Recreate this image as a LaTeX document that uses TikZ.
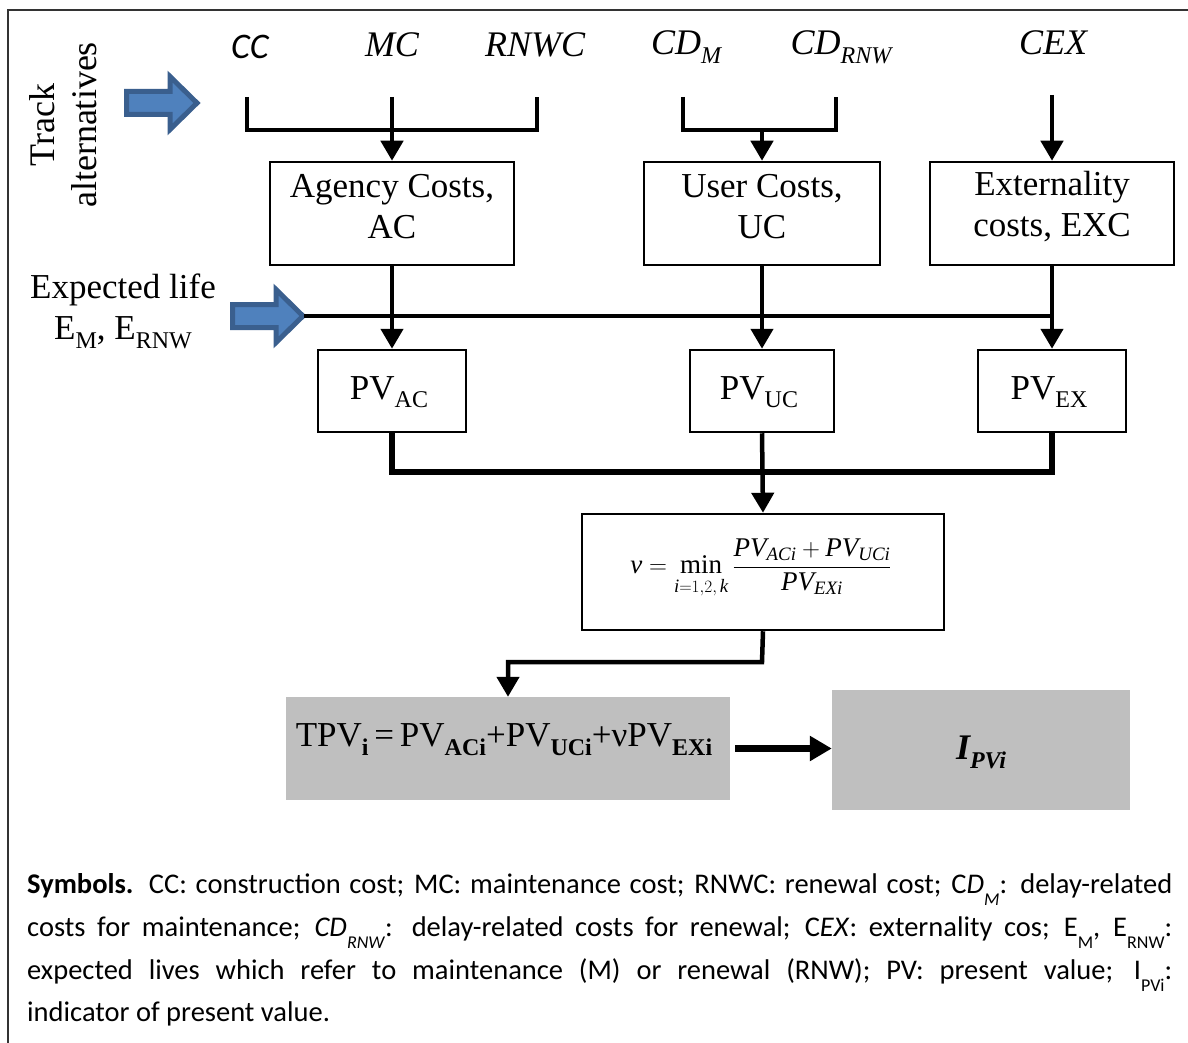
\documentclass[tikz,border=0pt]{standalone}
\usepackage{amsmath}
\usepackage{fontspec}
\setmainfont{Liberation Serif}
\newfontfamily\calfont{Carlito}
\usetikzlibrary{arrows.meta}
\definecolor{arrblue}{HTML}{4F81BD}
\definecolor{arrdark}{HTML}{3A5F8E}
\definecolor{boxgray}{HTML}{BFBFBF}
\definecolor{framegray}{HTML}{333333}
\newcommand\dsub[1]{\raisebox{-0.25em}{\fontsize{24}{24}\selectfont #1}}
\newcommand\lsub[1]{\raisebox{-0.45em}{\fontsize{18}{18}\selectfont #1}}
\newcommand\blockarrow[1]{%
  \draw[blk, shift={#1}] (-73.5,-11.5) -- (-30,-11.5) -- (-30,-26.5) -- (-3,0) -- (-30,26.5) -- (-30,11.5) -- (-73.5,11.5) -- cycle;}
\tikzset{
  box/.style={draw=black, line width=2.5pt, inner sep=0pt},
  gbox/.style={fill=boxgray, inner sep=0pt},
  conn/.style={line width=4.5pt, line join=miter},
  arr/.style={conn, -{Triangle[width=22pt,length=20pt]}},
  lab/.style={font=\fontsize{36}{40}\selectfont\itshape, inner sep=0pt},
  btext/.style={font=\fontsize{35}{41}\selectfont, align=center, inner sep=0pt},
  blk/.style={fill=arrblue, draw=arrdark, line width=5pt, line join=miter},
  frame/.style={draw=framegray, line width=2.5pt},
  symline/.style={anchor=base west, text width=1145pt, align=justify, inner sep=0pt,
    font=\calfont\fontsize{28.5}{32}\selectfont},
}
\begin{document}
\begin{tikzpicture}[x=1pt,y=-1pt]
\useasboundingbox (0,0) rectangle (1188,1043);
\fill[white] (0,0) rectangle (1188,1043);
\draw[frame] (8,1043) -- (8,10) -- (1188,10);

% side labels
\node[btext, rotate=90, font=\fontsize{36}{42}\selectfont] (track) at (63,125) {Track\\alternatives};
\node[btext] (elife) at (123,311) {Expected life\\E\dsub{M}, E\dsub{RNW}};
\blockarrow{(200,103)}
\blockarrow{(306,316)}

% top labels
\node[lab] (cc) at (250,47) {{\calfont CC}};
\node[lab] (mc) at (392,45) {MC};
\node[lab] (rnwc) at (535,45) {RNWC};
\node[lab] (cdm) at (686,47) {CD\dsub{M}};
\node[lab] (cdr) at (841,47) {CD\dsub{RNW}};
\node[lab] (cex) at (1053,43) {CEX};

% boxes
\node[box, minimum width=244pt, minimum height=103pt] (ac) at (392,213.5) {};
\node[box, minimum width=236pt, minimum height=103pt] (uc) at (762,213.5) {};
\node[box, minimum width=244pt, minimum height=103pt] (exc) at (1052,213.5) {};
\node[btext] (actext) at (392,207) {Agency Costs,\\AC};
\node[btext] (uctext) at (762,207) {User Costs,\\UC};
\node[btext] (exctext) at (1052,207) {Externality\\costs, EXC};

\node[box, minimum width=148pt, minimum height=82pt] (pvac) at (392,391) {};
\node[box, minimum width=144pt, minimum height=82pt] (pvuc) at (762,391) {};
\node[box, minimum width=148pt, minimum height=82pt] (pvex) at (1052,391) {};
\node[btext, anchor=base] (pvactext) at (389,399) {PV\dsub{AC}};
\node[btext, anchor=base] (pvuctext) at (759,399) {PV\dsub{UC}};
\node[btext, anchor=base] (pvextext) at (1049,399) {PV\dsub{EX}};

\node[box, minimum width=362pt, minimum height=116pt] (form) at (763,572) {};
\node[inner sep=0pt] (formtext) at (761,569) {\fontsize{27}{31}\selectfont
  $\displaystyle \textit{ν} = \mathop{\text{min}}\limits_{\rule{0pt}{15pt}\textit{i}=1,2,\,\textit{k}}
  \frac{\textit{PV}_{\textit{ACi}}+\textit{PV}_{\textit{UCi}}}{\textit{PV}_{\textit{EXi}}}$};

\node[gbox, minimum width=444pt, minimum height=103pt] (tpv) at (508,748.5) {};
\node[btext] (tpvtext) at (504,740) {TPV{\bfseries\dsub{i}}\,=\,PV{\bfseries\dsub{ACi}}+PV{\bfseries\dsub{UCi}}+νPV{\bfseries\dsub{EXi}}};
\node[gbox, minimum width=298pt, minimum height=120pt] (ipv) at (981,750) {};
\node[lab, font=\fontsize{36}{40}\selectfont\bfseries\itshape] (ipvtext) at (981,752) {I\dsub{PVi}};

% connectors
\coordinate (ccend) at (247,97);
\coordinate (mcend) at (392,97);
\coordinate (rnwcend) at (537,97);
\coordinate (mcjoin) at (392,130);
\draw[conn] (ccend) |- (mcjoin) -| (rnwcend);
\draw[arr] (mcend) -- (ac.north);

\coordinate (cdmend) at (683,97);
\coordinate (cdrend) at (836,97);
\coordinate (cdjoin) at (762,130);
\draw[conn] (cdmend) |- (cdjoin) -| (cdrend);
\draw[arr] (cdjoin) -- (uc.north);

\coordinate (cexend) at (1052,95);
\draw[arr] (cexend) -- (exc.north);

\coordinate (elifetip) at (304,316);
\coordinate (elifeend) at (1052,316);
\draw[conn] (elifetip) -- (elifeend);

\draw[arr] (ac.south) -- (pvac.north);
\draw[arr] (uc.south) -- (pvuc.north);
\draw[arr] (exc.south) -- (pvex.north);

\coordinate (pvjoin) at (762,472);
\draw[conn, line width=5.5pt] (pvac.south) |- (pvjoin) -| (pvex.south);
\draw[arr] (pvuc.south) -- (form.north);

\coordinate (fbend) at (762,662);
\draw[arr] (form.south) -- (fbend) -| (tpv.north);

\draw[line width=7pt, -{Triangle[width=24pt,length=22pt]}, shorten <=5pt] (tpv.east) -- (tpv.east -| ipv.west);

% symbols
\node[symline] (sym1) at (27,893) {\textbf{Symbols.} CC: construction cost; MC: maintenance cost; RNWC: renewal cost; C\textit{D}\lsub{\textit{M}}: delay-related\parfillskip=0pt\par};
\node[symline] (sym2) at (27,936) {costs for maintenance; \textit{CD}\lsub{\textit{RNW}}: delay-related costs for renewal; C\textit{EX}: externality cos; E\lsub{M}, E\lsub{RNW}:\parfillskip=0pt\par};
\node[symline] (sym3) at (27,979) {expected lives which refer to maintenance (M) or renewal (RNW); PV: present value; I\lsub{PVi}:\parfillskip=0pt\par};
\node[symline] (sym4) at (27,1021) {indicator of present value.};
\end{tikzpicture}
\end{document}
